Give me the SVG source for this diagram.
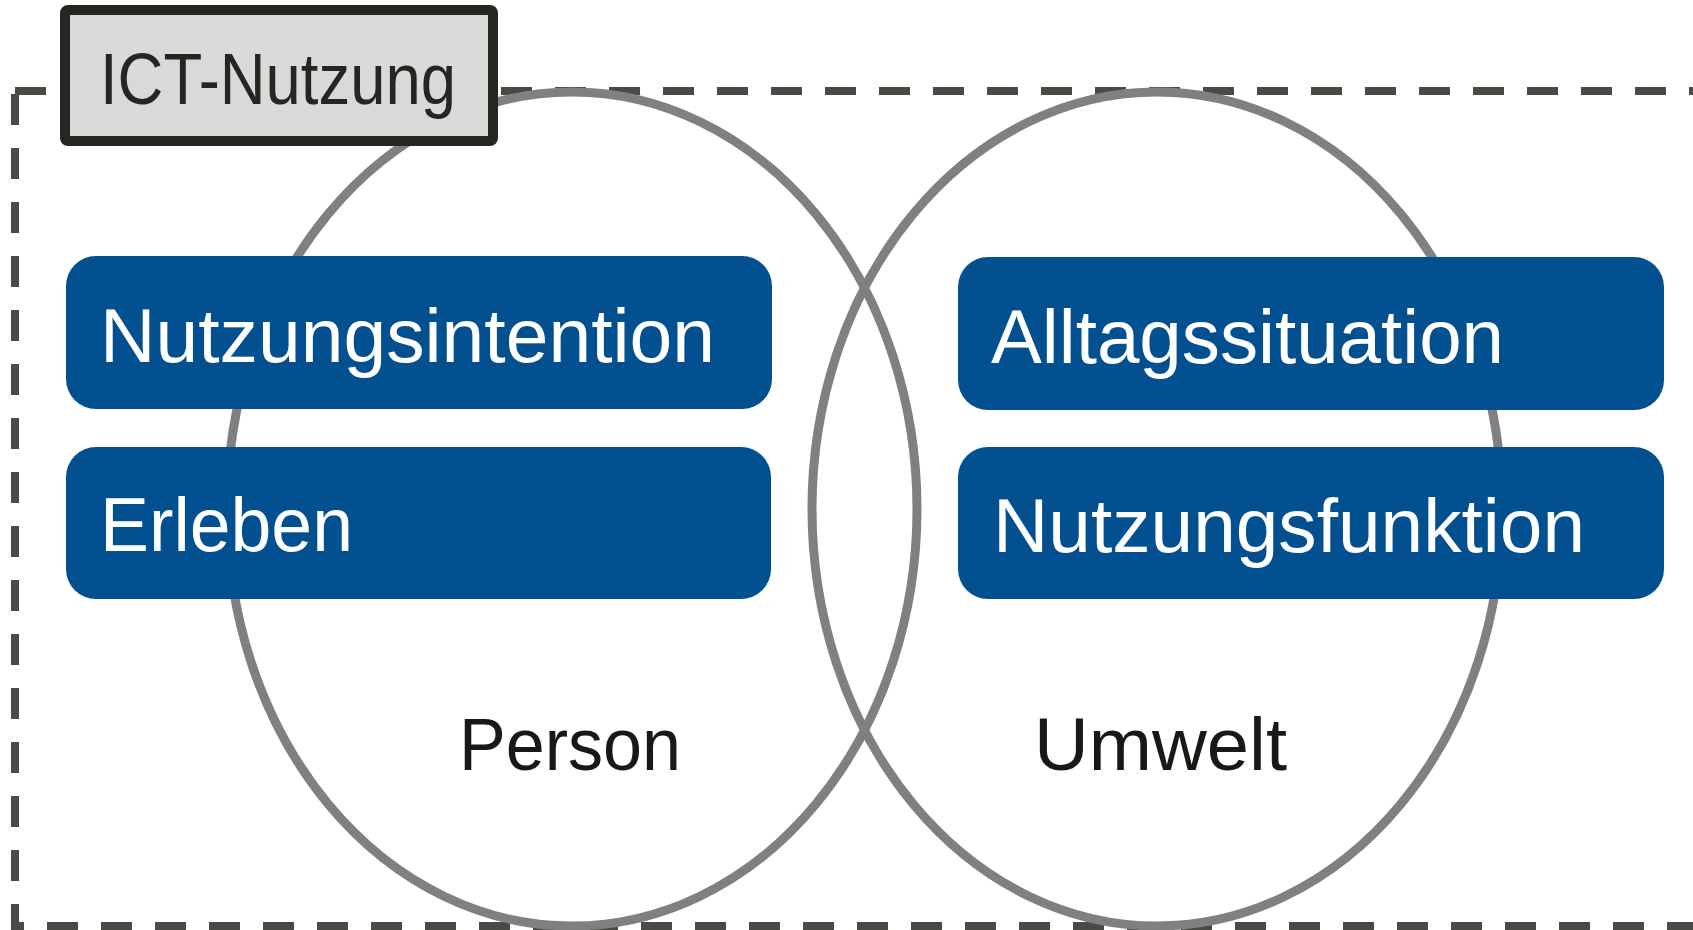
<svg xmlns="http://www.w3.org/2000/svg" width="1693" height="930" viewBox="0 0 1693 930">
<style>
.frame{fill:none;stroke:#4a4a44;stroke-width:8;stroke-dasharray:31 23}
.ell{fill:none;stroke:#808080;stroke-width:9}
.box{fill:#025090}
.wt{fill:#ffffff;font-family:"Liberation Sans Narrow","Liberation Sans",sans-serif;font-size:76px}
.bt{fill:#1a1714;font-family:"Liberation Sans Narrow","Liberation Sans",sans-serif;font-size:74px}
.ict{fill:#d9d9d9;stroke:#262621;stroke-width:10}
.ictt{fill:#262621;font-family:"Liberation Sans Narrow","Liberation Sans",sans-serif;font-size:72px}
</style>
<rect width="1693" height="930" fill="#ffffff"/>
<g id="connectors">
<rect class="frame" x="15" y="91" width="1720" height="835"/>
</g>
<g id="person">
<ellipse class="ell" cx="572" cy="509" rx="345" ry="417"/>
<text class="bt" x="459" y="770" textLength="222" lengthAdjust="spacingAndGlyphs">Person</text>
</g>
<g id="umwelt">
<ellipse class="ell" cx="1157" cy="509" rx="345" ry="417"/>
<text class="bt" x="1034" y="770" textLength="253" lengthAdjust="spacingAndGlyphs">Umwelt</text>
</g>
<g id="nutzungsintention">
<rect class="box" x="66" y="256" width="706" height="153" rx="30"/>
<text class="wt" x="100" y="362" textLength="615" lengthAdjust="spacingAndGlyphs">Nutzungsintention</text>
</g>
<g id="erleben">
<rect class="box" x="66" y="447" width="705" height="152" rx="30"/>
<text class="wt" x="100" y="551" textLength="253" lengthAdjust="spacingAndGlyphs">Erleben</text>
</g>
<g id="alltagssituation">
<rect class="box" x="958" y="257" width="706" height="153" rx="30"/>
<text class="wt" x="991" y="363" textLength="513" lengthAdjust="spacingAndGlyphs">Alltagssituation</text>
</g>
<g id="nutzungsfunktion">
<rect class="box" x="958" y="447" width="706" height="152" rx="30"/>
<text class="wt" x="993" y="552" textLength="592" lengthAdjust="spacingAndGlyphs">Nutzungsfunktion</text>
</g>
<g id="ict-nutzung">
<rect class="ict" x="65" y="10" width="428" height="131" rx="3"/>
<text class="ictt" x="100" y="104" textLength="356" lengthAdjust="spacingAndGlyphs">ICT-Nutzung</text>
</g>
</svg>
